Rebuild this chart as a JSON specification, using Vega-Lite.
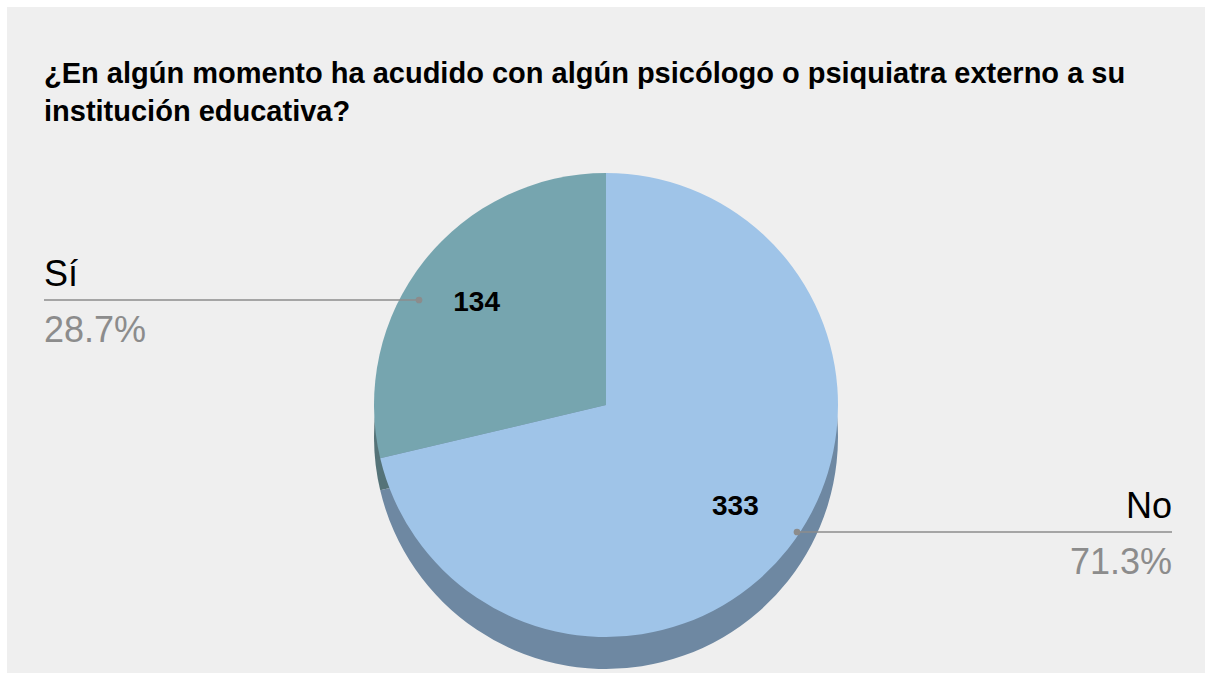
{
  "$schema": "https://vega.github.io/schema/vega-lite/v6.json",
  "width": 1198,
  "height": 666,
  "autosize": {"type": "none"},
  "padding": {"left": 7, "top": 7, "right": 0, "bottom": 0},
  "background": "#ffffff",
  "config": {"view": {"fill": "#efefef", "stroke": null}, "font": "Liberation Sans"},
  "title": {
    "text": ["¿En algún momento ha acudido con algún psicólogo o psiquiatra externo a su", "institución educativa?"],
    "anchor": "start",
    "orient": "top",
    "offset": -120,
    "dx": 37,
    "fontSize": 29,
    "fontWeight": "bold",
    "font": "Liberation Sans",
    "color": "#000000",
    "lineHeight": 38
  },
  "data": {
    "values": [
      {"respuesta": "Sí", "n": 134, "pct": "28.7%"},
      {"respuesta": "No", "n": 333, "pct": "71.3%"}
    ]
  },
  "resolve": {"scale": {"x": "independent", "y": "independent", "color": "independent"}},
  "layer": [
    {
      "resolve": {"scale": {"color": "independent"}},
      "layer": [
        {
          "mark": {"type": "arc", "radius": 232, "strokeWidth": 0},
          "encoding": {
            "theta": {"field": "n", "type": "quantitative", "stack": true},
            "order": {"field": "respuesta", "type": "nominal", "sort": "ascending"},
            "color": {"field": "respuesta", "type": "nominal", "scale": {"domain": ["No", "Sí"], "range": ["#6e88a2", "#557378"]}, "legend": null},
            "y": {"datum": "lado", "type": "nominal", "scale": {"type": "point", "domain": ["cara", "lado"], "range": [398, 430], "padding": 0}, "axis": null}
          }
        },
        {
          "mark": {"type": "arc", "radius": 232, "strokeWidth": 0},
          "encoding": {
            "theta": {"field": "n", "type": "quantitative", "stack": true},
            "order": {"field": "respuesta", "type": "nominal", "sort": "ascending"},
            "color": {"field": "respuesta", "type": "nominal", "scale": {"domain": ["No", "Sí"], "range": ["#9fc4e8", "#76a5af"]}, "legend": null},
            "y": {"datum": "cara", "type": "nominal", "scale": {"type": "point", "domain": ["cara", "lado"], "range": [398, 430], "padding": 0}, "axis": null}
          }
        },
        {
          "mark": {"type": "text", "radius": 165, "fontSize": 28, "fontWeight": "bold", "color": "#000000", "font": "Liberation Sans", "baseline": "middle", "align": "center"},
          "encoding": {
            "theta": {"field": "n", "type": "quantitative", "stack": true},
            "order": {"field": "respuesta", "type": "nominal", "sort": "ascending"},
            "text": {"field": "n", "type": "quantitative"},
            "y": {"datum": "cara", "type": "nominal", "scale": {"type": "point", "domain": ["cara", "lado"], "range": [398, 430], "padding": 0}, "axis": null}
          }
        }
      ]
    },
    {
      "layer": [
        {
          "mark": {"type": "rect", "color": "#8c8c8c"},
          "encoding": {
            "x": {"field": "respuesta", "type": "nominal", "scale": {"type": "band", "domain": ["Sí", "No"], "range": [37, 1165], "paddingInner": 0.50199, "paddingOuter": 0}, "axis": null},
            "y": {"field": "respuesta", "type": "nominal", "scale": {"type": "band", "domain": ["Sí", "No"], "range": [292.25, 525.75], "paddingInner": 0.99353, "paddingOuter": 0}, "axis": null}
          }
        },
        {
          "transform": [{"filter": "datum.respuesta === 'Sí'"}],
          "mark": {"type": "point", "filled": true, "size": 45, "color": "#8c8c8c", "opacity": 1},
          "encoding": {
            "x": {"field": "respuesta", "type": "nominal", "bandPosition": 1, "scale": {"type": "band", "domain": ["Sí", "No"], "range": [37, 1165], "paddingInner": 0.50199, "paddingOuter": 0}, "axis": null},
            "y": {"field": "respuesta", "type": "nominal", "scale": {"type": "band", "domain": ["Sí", "No"], "range": [292.25, 525.75], "paddingInner": 0.99353, "paddingOuter": 0}, "axis": null}
          }
        },
        {
          "transform": [{"filter": "datum.respuesta === 'No'"}],
          "mark": {"type": "point", "filled": true, "size": 45, "color": "#8c8c8c", "opacity": 1},
          "encoding": {
            "x": {"field": "respuesta", "type": "nominal", "bandPosition": 0, "scale": {"type": "band", "domain": ["Sí", "No"], "range": [37, 1165], "paddingInner": 0.50199, "paddingOuter": 0}, "axis": null},
            "y": {"field": "respuesta", "type": "nominal", "scale": {"type": "band", "domain": ["Sí", "No"], "range": [292.25, 525.75], "paddingInner": 0.99353, "paddingOuter": 0}, "axis": null}
          }
        },
        {
          "transform": [{"filter": "datum.respuesta === 'Sí'"}],
          "mark": {"type": "text", "align": "left", "baseline": "alphabetic", "dy": -14, "fontSize": 36, "color": "#000000", "font": "Liberation Sans"},
          "encoding": {
            "x": {"field": "respuesta", "type": "nominal", "bandPosition": 0, "scale": {"type": "band", "domain": ["Sí", "No"], "range": [37, 1165], "paddingInner": 0.50199, "paddingOuter": 0}, "axis": null},
            "y": {"field": "respuesta", "type": "nominal", "scale": {"type": "band", "domain": ["Sí", "No"], "range": [292.25, 525.75], "paddingInner": 0.99353, "paddingOuter": 0}, "axis": null},
            "text": {"field": "respuesta"}
          }
        },
        {
          "transform": [{"filter": "datum.respuesta === 'Sí'"}],
          "mark": {"type": "text", "align": "left", "baseline": "alphabetic", "dy": 42, "fontSize": 36, "color": "#8c8c8c", "font": "Liberation Sans"},
          "encoding": {
            "x": {"field": "respuesta", "type": "nominal", "bandPosition": 0, "scale": {"type": "band", "domain": ["Sí", "No"], "range": [37, 1165], "paddingInner": 0.50199, "paddingOuter": 0}, "axis": null},
            "y": {"field": "respuesta", "type": "nominal", "scale": {"type": "band", "domain": ["Sí", "No"], "range": [292.25, 525.75], "paddingInner": 0.99353, "paddingOuter": 0}, "axis": null},
            "text": {"field": "pct"}
          }
        },
        {
          "transform": [{"filter": "datum.respuesta === 'No'"}],
          "mark": {"type": "text", "align": "right", "baseline": "alphabetic", "dy": -14, "fontSize": 36, "color": "#000000", "font": "Liberation Sans"},
          "encoding": {
            "x": {"field": "respuesta", "type": "nominal", "bandPosition": 1, "scale": {"type": "band", "domain": ["Sí", "No"], "range": [37, 1165], "paddingInner": 0.50199, "paddingOuter": 0}, "axis": null},
            "y": {"field": "respuesta", "type": "nominal", "scale": {"type": "band", "domain": ["Sí", "No"], "range": [292.25, 525.75], "paddingInner": 0.99353, "paddingOuter": 0}, "axis": null},
            "text": {"field": "respuesta"}
          }
        },
        {
          "transform": [{"filter": "datum.respuesta === 'No'"}],
          "mark": {"type": "text", "align": "right", "baseline": "alphabetic", "dy": 42, "fontSize": 36, "color": "#8c8c8c", "font": "Liberation Sans"},
          "encoding": {
            "x": {"field": "respuesta", "type": "nominal", "bandPosition": 1, "scale": {"type": "band", "domain": ["Sí", "No"], "range": [37, 1165], "paddingInner": 0.50199, "paddingOuter": 0}, "axis": null},
            "y": {"field": "respuesta", "type": "nominal", "scale": {"type": "band", "domain": ["Sí", "No"], "range": [292.25, 525.75], "paddingInner": 0.99353, "paddingOuter": 0}, "axis": null},
            "text": {"field": "pct"}
          }
        }
      ]
    }
  ]
}
